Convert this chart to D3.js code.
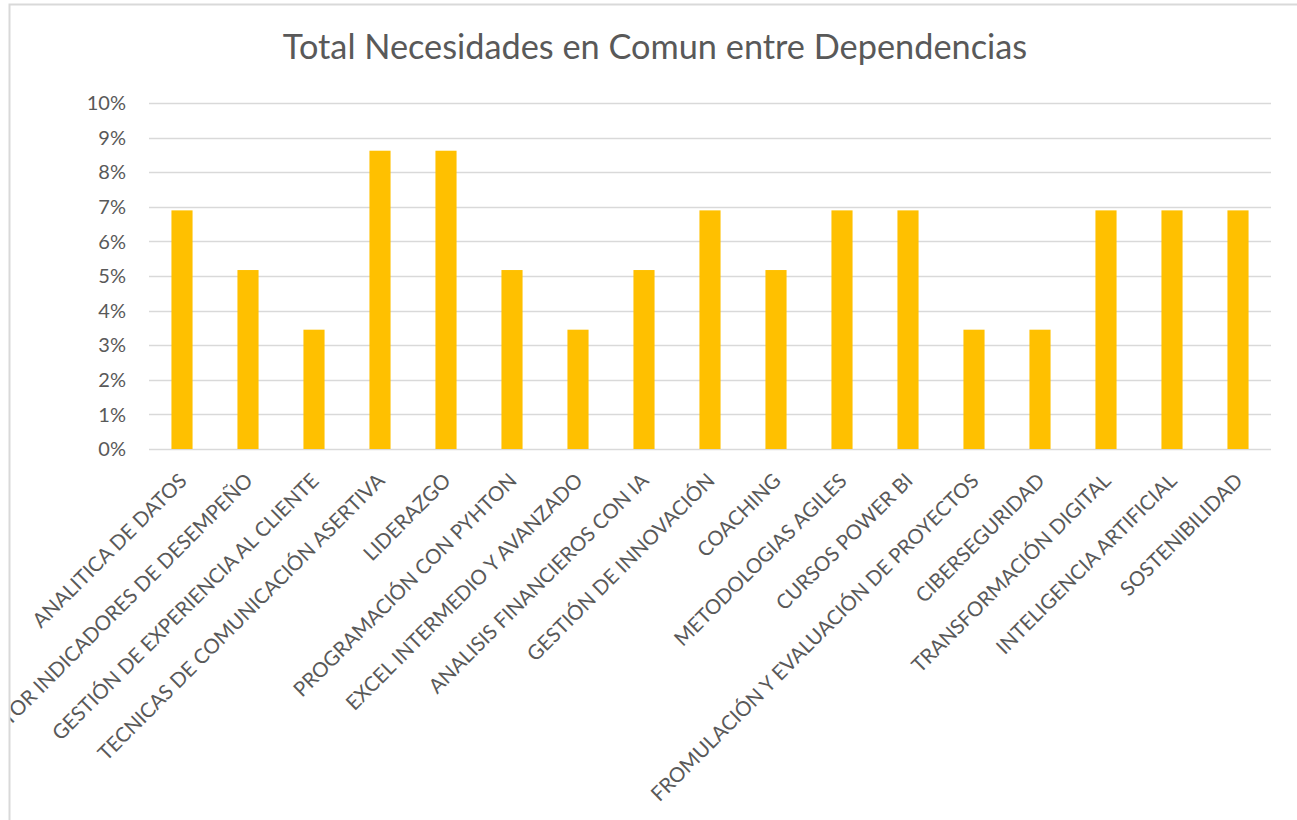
<!DOCTYPE html>
<html>
<head>
<meta charset="utf-8">
<script src="https://cdn.jsdelivr.net/npm/d3@7"></script>
<style>
  body { margin: 0; background: #fff; }
  text { font-family: Lato, "Open Sans", sans-serif; fill: #595959; }
</style>
</head>
<body>
<script>
// counts per need, shown as share of the total (58)
var categories = ['ANALITICA DE DATOS', 'GESTOR INDICADORES DE DESEMPEÑO', 'GESTIÓN DE EXPERIENCIA AL CLIENTE',
  'TECNICAS DE COMUNICACIÓN ASERTIVA', 'LIDERAZGO', 'PROGRAMACIÓN CON PYHTON', 'EXCEL INTERMEDIO Y AVANZADO',
  'ANALISIS FINANCIEROS CON IA', 'GESTIÓN DE INNOVACIÓN', 'COACHING', 'METODOLOGIAS AGILES', 'CURSOS POWER BI',
  'FROMULACIÓN Y EVALUACIÓN DE PROYECTOS', 'CIBERSEGURIDAD', 'TRANSFORMACIÓN DIGITAL', 'INTELIGENCIA ARTIFICIAL',
  'SOSTENIBILIDAD']
var counts = [4, 3, 2, 5, 5, 3, 2, 3, 4, 3, 4, 4, 2, 2, 4, 4, 4]
var yTicks = [0, 0.01, 0.02, 0.03, 0.04, 0.05, 0.06, 0.07, 0.08, 0.09, 0.10]

var total = d3.sum(counts)
var values = counts.map(c => c / total)

var width = 1297, height = 820
var margin = {left: 149, right: 26, top: 103, bottom: 371}
var gridColor = '#d9d9d9'
var barColor = '#ffc000'

const svg = d3.select('body').append('svg')
    .attr('width', width)
    .attr('height', height)

// the chart area clips its own labels at the left border, as in the original
svg.append('clipPath').attr('id', 'chartClip')
  .append('rect')
    .attr('x', 10).attr('y', 5)
    .attr('width', width).attr('height', height)

const chart = svg.append('g').attr('clip-path', 'url(#chartClip)')

// chart area border
svg.append('rect')
    .attr('x', 9.5).attr('y', 4.5)
    .attr('width', width + 20).attr('height', height + 20)
    .attr('fill', 'none')
    .attr('stroke', gridColor)
    .attr('stroke-width', 2)

const x = d3.scaleBand()
    .domain(categories)
    .range([margin.left, width - margin.right])
    .paddingInner(0.68)
    .paddingOuter(0.34)

const y = d3.scaleLinear()
    .domain([0, 0.10])
    .range([height - margin.bottom, margin.top])

// gridlines
chart.append('g')
  .selectAll('line')
  .data(yTicks)
  .join('line')
    .attr('x1', margin.left)
    .attr('x2', width - margin.right)
    .attr('y1', d => Math.round(y(d)) + 0.5)
    .attr('y2', d => Math.round(y(d)) + 0.5)
    .attr('stroke', gridColor)
    .attr('stroke-width', 1.5)

// y labels
chart.append('g')
  .selectAll('text')
  .data(yTicks)
  .join('text')
    .attr('x', margin.left - 23)
    .attr('y', d => y(d))
    .attr('dy', '0.36em')
    .attr('text-anchor', 'end')
    .attr('font-size', '20px')
    .text(d => d3.format('.0%')(d))

// bars
chart.append('g')
  .selectAll('rect')
  .data(values)
  .join('rect')
    .attr('x', (d, i) => x(categories[i]))
    .attr('y', d => y(d))
    .attr('width', x.bandwidth())
    .attr('height', d => y(0) - y(d))
    .attr('fill', barColor)

// category labels
chart.append('g')
  .selectAll('text')
  .data(categories)
  .join('text')
    .attr('transform', d => `translate(${x(d) + x.bandwidth() / 2 + 1}, ${y(0) + 28}) rotate(-45)`)
    .attr('text-anchor', 'end')
    .attr('dy', '0.35em')
    .attr('font-size', '20.4px')
    .text(d => d)

// title
chart.append('text')
    .attr('x', 655)
    .attr('y', 59)
    .attr('text-anchor', 'middle')
    .attr('font-size', '34.3px')
    .text('Total Necesidades en Comun entre Dependencias')
</script>
</body>
</html>
